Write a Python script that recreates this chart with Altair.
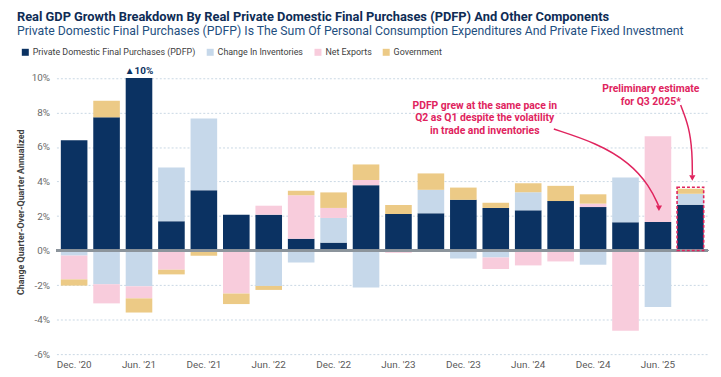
import altair as alt
import pandas as pd

FONT = "Roboto, sans-serif"
RED = "#e0245e"

quarters = ["Dec. '20", "Mar. '21", "Jun. '21", "Sep. '21", "Dec. '21", "Mar. '22", "Jun. '22",
            "Sep. '22", "Dec. '22", "Mar. '23", "Jun. '23", "Sep. '23", "Dec. '23", "Mar. '24",
            "Jun. '24", "Sep. '24", "Dec. '24", "Mar. '25", "Jun. '25", "Sep. '25"]
pdfp = [6.39, 7.72, 10.0, 1.70, 3.50, 2.08, 2.08, 0.69, 0.46, 3.79,
        2.12, 2.16, 2.94, 2.47, 2.33, 2.87, 2.52, 1.64, 1.66, 2.66]
inventories = [-0.29, -1.95, -2.07, 3.12, 4.15, 0.0, -2.05, -0.69, 1.43, -2.14,
               0.0, 1.36, -0.46, -0.40, 1.05, 0.0, -0.82, 2.60, -3.27, 0.63]
net_exports = [-1.38, -1.11, -0.70, -1.11, -0.05, -2.49, 0.52, 2.52, 0.58, 0.30,
               -0.13, 0.0, 0.0, -0.67, -0.86, -0.63, 0.20, -4.65, 4.97, 0.0]
government = [-0.36, 0.96, -0.82, -0.27, -0.25, -0.61, -0.23, 0.25, 0.90, 0.90,
              0.52, 0.95, 0.71, 0.30, 0.52, 0.88, 0.54, 0.0, 0.0, 0.29]

components = ["Private Domestic Final Purchases (PDFP)", "Change In Inventories",
              "Net Exports", "Government"]
colors = ["#0b3262", "#c6d8ea", "#f8ccdc", "#ecca86"]

y_ticks = [-6, -4, -2, 0, 2, 4, 6, 8, 10]
x_labels = quarters[::2]

# annotation data (positions in bar-index / percent units)
ann_texts = ["PDFP grew at the same pace in\nQ2 as Q1 despite the volatility\nin trade and inventories",
             "Preliminary estimate\nfor Q3 2025*"]
ann_x = [12.66, 17.78]
ann_y = [8.66, 9.62]

arrow_id = ["a", "a", "a", "a", "a", "b", "b", "b", "b"]
arrow_x = [14.79, 16.11, 17.13, 17.74, 18.02, 18.70, 18.96, 19.06, 19.06]
arrow_y = [7.04, 6.23, 5.09, 3.74, 2.60, 8.43, 7.18, 5.68, 4.35]
head_x = [18.03, 19.06]
head_y = [2.45, 4.20]

prelim_quarter = ["Sep. '25"]
prelim_top = [3.67]

rows = []
for i, q in enumerate(quarters):
    for k, (name, vals) in enumerate(zip(components, [pdfp, inventories, net_exports, government])):
        rows.append({"quarter": q, "component": name, "order": k, "value": vals[i]})
df = pd.DataFrame(rows)

xscale = alt.Scale(domain=quarters, paddingInner=0.18, paddingOuter=0.135)
yscale = alt.Scale(domain=[-6, 10.5], nice=False, zero=False)

x_axis = alt.Axis(values=x_labels, title=None, labelAngle=0, ticks=False, domain=False,
                  labelColor="#595959", labelFontSize=10, labelPadding=6, labelFont=FONT,
                  grid=False)
y_axis = alt.Axis(values=y_ticks, labelExpr="datum.value + '%'",
                  title="Change Quarter-Over-Quarter Annualized",
                  titleFont=FONT, titleFontSize=9, titleFontWeight="bold",
                  titleColor="#404040", titlePadding=6,
                  labelFont=FONT, labelFontSize=10, labelColor="#6b6b6b",
                  labelPadding=7, ticks=False, domain=False,
                  grid=True, gridColor="#c9d8e4", gridDash=[2, 2], gridWidth=1)

X = alt.X("quarter:N", sort=quarters, scale=xscale, axis=x_axis)

bars = alt.Chart(df).mark_bar().encode(
    x=X,
    y=alt.Y("value:Q", stack="zero", scale=yscale, axis=y_axis),
    color=alt.Color("component:N", scale=alt.Scale(domain=components, range=colors),
                    legend=alt.Legend(orient="none", legendX=-36, legendY=-22,
                                      direction="horizontal", title=None,
                                      symbolType="square", symbolSize=50,
                                      symbolStrokeWidth=0, labelLimit=400,
                                      labelFont=FONT, labelFontSize=9, labelColor="#404040",
                                      labelOffset=3, columnPadding=10)),
    order=alt.Order("order:Q"),
)

zero = alt.Chart(df).mark_rule(color="#8c959c", strokeWidth=1.5).encode(
    y=alt.datum(0, scale=yscale, axis=y_axis))

box_df = pd.DataFrame({"quarter": prelim_quarter, "value": [0.0], "hi": prelim_top})
box = alt.Chart(box_df).mark_bar(filled=False, stroke=RED, strokeWidth=1.6,
                                 strokeDash=[3, 2]).encode(
    x=X,
    y=alt.Y("value:Q", scale=yscale, axis=y_axis),
    y2="hi:Q",
)

top_df = pd.DataFrame({"quarter": ["Jun. '21"], "value": [10.0], "label": ["▲10%"]})
top_label = alt.Chart(top_df).mark_text(font=FONT, fontSize=10, fontWeight="bold",
                                        color="#0b3262", baseline="bottom", dy=-2).encode(
    x=X,
    y=alt.Y("value:Q", scale=yscale, axis=y_axis),
    text="label:N",
)

ax = alt.Scale(domain=[-0.545, 19.545], nice=False, zero=False)

ann_df = pd.DataFrame({"ix": ann_x, "value": ann_y, "text": ann_texts})
ann = alt.Chart(ann_df).mark_text(font=FONT, fontSize=10.5, fontWeight="bold", color=RED,
                                  align="center", baseline="top", lineBreak="\n",
                                  lineHeight=12.5).encode(
    x=alt.X("ix:Q", scale=ax, axis=None),
    y=alt.Y("value:Q", scale=yscale, axis=y_axis),
    text="text:N",
)

arr_df = pd.DataFrame({"id": arrow_id, "ix": arrow_x, "value": arrow_y,
                       "seq": list(range(len(arrow_x)))})
arrows = alt.Chart(arr_df).mark_line(color=RED, strokeWidth=1.5, interpolate="basis").encode(
    x=alt.X("ix:Q", scale=ax, axis=None),
    y=alt.Y("value:Q", scale=yscale, axis=y_axis),
    detail="id:N",
    order="seq:Q",
)

head_df = pd.DataFrame({"ix": head_x, "value": head_y})
heads = alt.Chart(head_df).mark_point(shape="triangle-down", filled=True, size=40,
                                      color=RED, opacity=1).encode(
    x=alt.X("ix:Q", scale=ax, axis=None),
    y=alt.Y("value:Q", scale=yscale, axis=y_axis),
)

base = alt.layer(bars, zero, box, top_label)
overlay = alt.layer(ann, arrows, heads)

chart = alt.layer(base, overlay).resolve_scale(x="independent").properties(
    width=659, height=288,
    background="white",
    padding={"left": 49, "top": 60, "right": 5, "bottom": 13},
    autosize=alt.AutoSizeParams(type="none"),
    title=alt.TitleParams(
        text="Real GDP Growth Breakdown By Real Private Domestic Final Purchases (PDFP) And Other Components",
        subtitle="Private Domestic Final Purchases (PDFP) Is The Sum Of Personal Consumption Expenditures And Private Fixed Investment",
        anchor="start", frame="group", dx=-40, offset=10,
        font=FONT, fontSize=13, fontWeight="bold", color="#0e2c55",
        subtitleFont=FONT, subtitleFontSize=12.4, subtitleColor="#1f4f7f", subtitlePadding=2,
    ),
).configure_view(stroke=None)

chart.save("out.html", embed_options={"renderer": "svg", "actions": False})
